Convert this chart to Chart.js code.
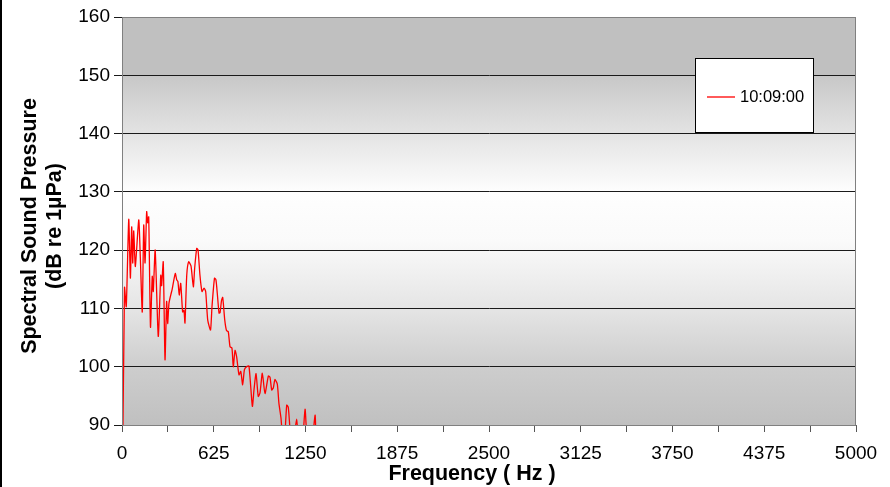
<!DOCTYPE html>
<html>
<head>
<meta charset="utf-8">
<script src="https://cdn.jsdelivr.net/npm/chart.js@4/dist/chart.umd.min.js"></script>
<style>
  html, body { margin: 0; padding: 0; background: #fff; }
  canvas { display: block; }
</style>
</head>
<body>
<canvas id="spectrum_chart" width="890" height="487"></canvas>
<script>
// spectrum (Hz, dB re 1uPa)
const freq_hz = [
  0, 17, 29, 46, 57, 66, 73, 80, 91, 114, 125, 138, 148, 157, 168, 175, 182,
  194, 206, 213, 226, 247, 264, 270, 281, 293, 304, 311, 320, 332, 341, 349,
  363, 373, 381, 390, 400, 413, 422, 429, 441, 454, 470, 486, 495, 509, 518,
  531, 545, 559, 570, 584, 603, 613, 630, 640, 649, 661, 668, 678, 686, 700,
  712, 724, 736, 749, 758, 770, 781, 797, 809, 822, 834, 849, 865, 888, 899,
  913, 928, 940, 956, 974, 997, 1008, 1020, 1031, 1042, 1058, 1069, 1083,
  1093, 1104, 1122, 1133, 1149, 1165, 1190, 1202, 1226, 1247, 1262, 1287,
  1315, 1325, 1349, 1400,
];
const spl_db = [
  72, 113.6, 110.3, 125.3, 115.2, 124.0, 117.8, 123.3, 117.2, 125.2, 118.6,
  109.4, 124.3, 117.8, 126.6, 124.7, 125.7, 106.8, 115.5, 112.9, 120.0, 105.2,
  115.7, 113.9, 118.0, 101.2, 111.2, 107.4, 110.9, 112.3, 113.2, 114.3, 116.0,
  114.9, 114.6, 112.3, 114.3, 109.4, 109.7, 107.5, 115.7, 118.0, 117.3, 113.7,
  116.9, 120.3, 120.0, 115.7, 112.9, 113.5, 112.9, 108.0, 106.3, 110.3, 115.2,
  114.9, 112.6, 109.2, 109.3, 111.4, 111.9, 108.0, 106.2, 106.0, 103.4, 103.2,
  100.0, 102.8, 101.7, 98.6, 99.2, 96.9, 99.5, 100.0, 100.1, 93.2, 96.0, 98.8,
  94.9, 95.5, 98.9, 95.4, 98.4, 98.2, 96.0, 96.4, 97.8, 97.0, 93.7, 91.2, 88,
  86, 93.4, 93.0, 88, 87, 91.0, 87, 86, 92.7, 87, 85, 91.7, 86, 84, 82,
];
const series_label = "10:09:00";
const y_title = ["Spectral Sound Pressure", "(dB re 1µPa)"];
const x_title = "Frequency ( Hz )";
const y_ticks = [90, 100, 110, 120, 130, 140, 150, 160];
const x_label_step = 625;
const x_tick_step = 312.5;
const x_max = 5000;

const ctx = document.getElementById("spectrum_chart").getContext("2d");
const FONT = "'Liberation Sans', Arial, sans-serif";

// Excel style background: flat grey top band, white middle, grey bottom
const plot_bg = {
  id: "plot_bg",
  beforeDraw(chart) {
    const { ctx, chartArea: a } = chart;
    ctx.save();
    ctx.fillStyle = "#000";
    ctx.fillRect(0, 0, 2, chart.height);
    const g = ctx.createLinearGradient(0, a.top, 0, a.bottom);
    g.addColorStop(0, "#c0c0c0");
    g.addColorStop(0.142, "#c0c0c0");
    g.addColorStop(0.146, "#c8c8c8");
    g.addColorStop(0.3, "#e6e6e6");
    g.addColorStop(0.43, "#fefefe");
    g.addColorStop(0.55, "#fafafa");
    g.addColorStop(0.72, "#e4e4e4");
    g.addColorStop(0.86, "#cdcdcd");
    g.addColorStop(1, "#c0c0c0");
    ctx.fillStyle = g;
    ctx.fillRect(a.left, a.top, a.right - a.left, a.bottom - a.top);
    ctx.restore();
  },
  afterDraw(chart) {
    const { ctx, chartArea: a } = chart;
    ctx.save();
    ctx.lineWidth = 1;
    ctx.strokeStyle = "#808080";
    ctx.strokeRect(a.left + 0.5, a.top + 0.5, a.right - a.left - 1, a.bottom - a.top);

    // axis titles
    ctx.fillStyle = "#000";
    ctx.font = "bold 21.5px " + FONT;
    ctx.textAlign = "center";
    ctx.textBaseline = "middle";
    ctx.fillText(x_title, 472, 474);
    ctx.save();
    ctx.translate(30, 226);
    ctx.rotate(-Math.PI / 2);
    ctx.fillText(y_title[0], 0, 0);
    ctx.fillText(y_title[1], 0, 25.5);
    ctx.restore();

    // legend box
    const bx = 695.5, by = 58.5, bw = 118, bh = 74;
    ctx.fillStyle = "#fff";
    ctx.fillRect(bx, by, bw, bh);
    ctx.strokeStyle = "#000";
    ctx.strokeRect(bx, by, bw, bh);
    ctx.beginPath();
    ctx.strokeStyle = "rgb(255,0,0)";
    ctx.lineWidth = 1.3;
    ctx.moveTo(707, 97);
    ctx.lineTo(735, 97);
    ctx.stroke();
    ctx.fillStyle = "#000";
    ctx.font = "16.5px " + FONT;
    ctx.textAlign = "left";
    ctx.fillText(series_label, 740, 97);
    ctx.restore();
  },
};

const chart = new Chart(ctx, {
  type: "line",
  data: {
    datasets: [
      {
        label: series_label,
        data: freq_hz.map((f, i) => ({ x: f, y: spl_db[i] })),
        borderColor: "#ff0000",
        borderWidth: 1.3,
        pointRadius: 0,
        tension: 0.2,
        fill: false,
      },
    ],
  },
  options: {
    responsive: false,
    animation: false,
    layout: { padding: { left: 0, right: 34, top: 17, bottom: 0 } },
    plugins: {
      legend: { display: false },
      tooltip: { enabled: false },
    },
    scales: {
      x: {
        type: "linear",
        min: 0,
        max: x_max,
        afterFit: (s) => { s.height = 62; },
        ticks: {
          stepSize: x_tick_step,
          autoSkip: false,
          maxRotation: 0,
          padding: 10,
          color: "#000",
          font: { family: FONT, size: 19 },
          callback: (v) => (v % x_label_step === 0 ? String(v) : ""),
        },
        grid: {
          drawOnChartArea: false,
          tickLength: 7,
          color: "#555",
        },
        border: { color: "#606060" },
      },
      y: {
        min: 90,
        max: 160,
        afterFit: (s) => { s.width = 122; },
        afterBuildTicks: (s) => { s.ticks = y_ticks.map((v) => ({ value: v })); },
        ticks: {
          color: "#000",
          padding: 4,
          font: { family: FONT, size: 19 },
        },
        grid: {
          color: "#1a1a1a",
          tickLength: 8,
        },
        border: { color: "#606060" },
      },
    },
  },
  plugins: [plot_bg],
});
</script>
</body>
</html>
